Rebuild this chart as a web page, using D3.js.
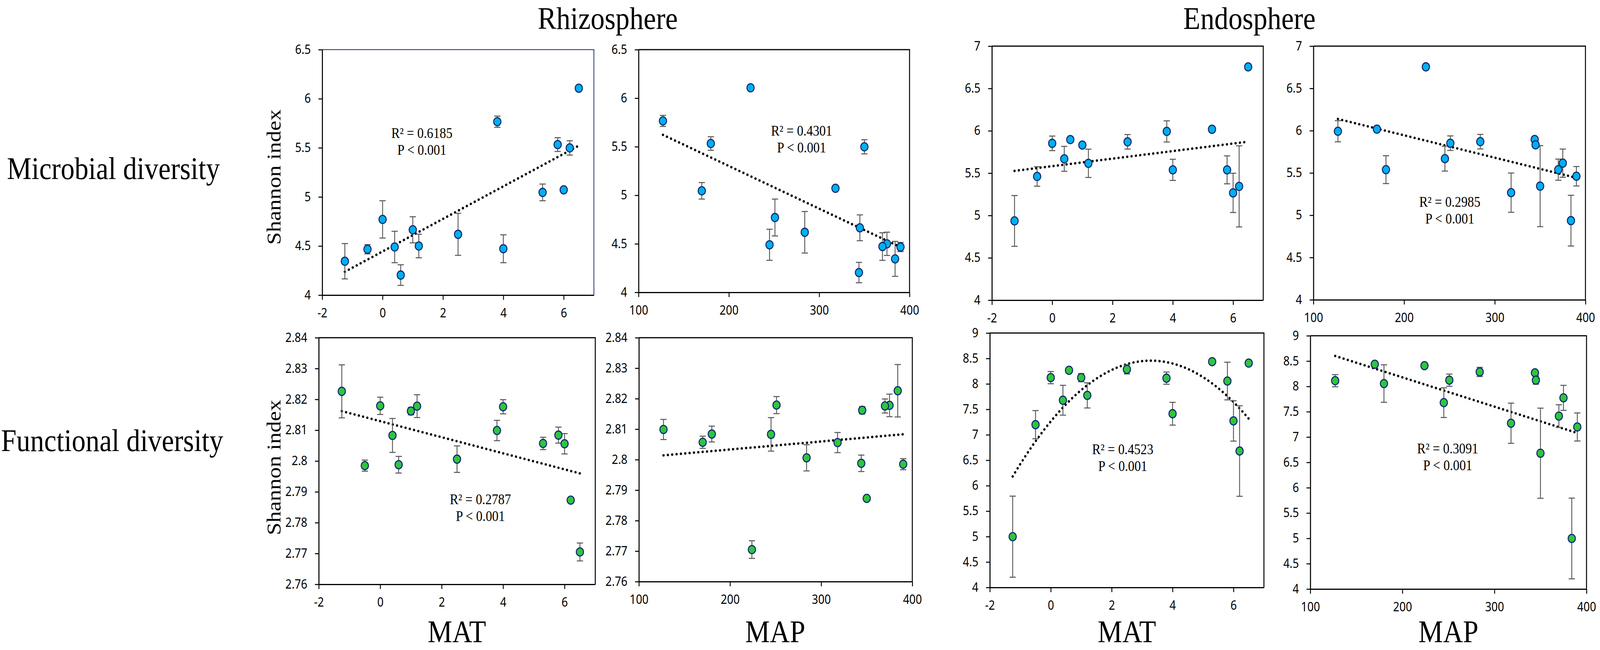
<!DOCTYPE html>
<html>
<head>
<meta charset="utf-8">
<script src="https://cdn.jsdelivr.net/npm/d3@7"></script>
<style>
  html, body { margin: 0; padding: 0; background: #fff; overflow: hidden; }
  svg { display: block; width: 100vw; height: 100vh; }
</style>
</head>
<body>
<svg id="chart"></svg>
<script>
// 15 sampling sites, climate
const sites = ["A","B","C","D","E","F","G","H","I","J","K","L","M","N","O"];
const mat = [-1.25, -0.5, 0, 0.4, 0.6, 1.0, 1.2, 2.5, 3.8, 4.0, 5.3, 5.8, 6.0, 6.2, 6.5];
const map = [384, 390, 251, 245, 344, 345, 375, 284, 127, 370, 170, 180, 318, 350, 224];

// Shannon index means and error bars
const rhizoMicro   = [4.345, 4.467, 4.771, 4.490, 4.204, 4.665, 4.500, 4.619, 5.766, 4.472, 5.046, 5.533, 5.072, 5.499, 6.107];
const rhizoMicroSE = [0.18, 0.047, 0.19, 0.16, 0.105, 0.133, 0.12, 0.214, 0.057, 0.142, 0.085, 0.07, 0.02, 0.073, 0.02];
const rhizoFunc    = [2.8226, 2.7985, 2.8179, 2.8083, 2.7988, 2.8162, 2.8178, 2.8006, 2.8099, 2.8176, 2.8057, 2.8084, 2.8056, 2.7873, 2.7705];
const rhizoFuncSE  = [0.0086, 0.0018, 0.0028, 0.0055, 0.0027, 0.0012, 0.0037, 0.0043, 0.0033, 0.0023, 0.002, 0.0026, 0.0033, 0.0003, 0.0029];
const endoMicro    = [4.936, 5.461, 5.852, 5.669, 5.896, 5.832, 5.616, 5.870, 5.993, 5.539, 6.018, 5.539, 5.267, 5.344, 6.755];
const endoMicroSE  = [0.30, 0.115, 0.086, 0.147, 0.02, 0.02, 0.167, 0.086, 0.125, 0.125, 0.035, 0.165, 0.232, 0.479, 0.01];
const endoFunc     = [4.998, 7.199, 8.123, 7.679, 8.268, 8.123, 7.774, 8.286, 8.113, 7.414, 8.437, 8.056, 7.273, 6.681, 8.409];
const endoFuncSE   = [0.797, 0.277, 0.12, 0.293, 0.02, 0.08, 0.247, 0.09, 0.12, 0.224, 0.02, 0.37, 0.397, 0.89, 0.02];

// axis ticks
const matTicks = [-2, 0, 2, 4, 6];
const mapTicks = [100, 200, 300, 400];
const rhizoMicroTicks = [4, 4.5, 5, 5.5, 6, 6.5];
const rhizoFuncTicks = [2.76, 2.77, 2.78, 2.79, 2.80, 2.81, 2.82, 2.83, 2.84];
const endoMicroTicks = [4, 4.5, 5, 5.5, 6, 6.5, 7];
const endoFuncTicks = [4, 4.5, 5, 5.5, 6, 6.5, 7, 7.5, 8, 8.5, 9];

const fitLabels = {
  rmMat: ["R\u00B2 = 0.6185", "P < 0.001"],
  rmMap: ["R\u00B2 = 0.4301", "P < 0.001"],
  rfMat: ["R\u00B2 = 0.2787", "P < 0.001"],
  emMap: ["R\u00B2 = 0.2985", "P < 0.001"],
  efMat: ["R\u00B2 = 0.4523", "P < 0.001"],
  efMap: ["R\u00B2 = 0.3091", "P < 0.001"]
};

const W = 4623, H = 1663;
const serif = "'Liberation Serif', 'Times New Roman', serif";
const sans = "'Noto Sans', 'Open Sans', sans-serif";

// fill the whole window whatever its css size
const svg = d3.select("#chart")
  .attr("viewBox", [0, 0, W, H])
  .attr("preserveAspectRatio", "none");
svg.append("rect").attr("width", W).attr("height", H).attr("fill", "#fff");

// green marker gradient
const grad = svg.append("defs").append("radialGradient")
  .attr("id", "greenDot").attr("cx", "42%").attr("cy", "40%").attr("r", "62%");
grad.append("stop").attr("offset", "0%").attr("stop-color", "#2fc83a");
grad.append("stop").attr("offset", "70%").attr("stop-color", "#2fc43c");
grad.append("stop").attr("offset", "100%").attr("stop-color", "#18a0e6");

function linearFit(xs, ys) {
  const mx = d3.mean(xs), my = d3.mean(ys);
  let sxy = 0, sxx = 0;
  xs.forEach((x, i) => { sxy += (x - mx) * (ys[i] - my); sxx += (x - mx) * (x - mx); });
  const b = sxy / sxx;
  return x => my + b * (x - mx);
}

function quadFit(xs, ys) {
  // normal equations for y = a + b x + c x^2
  const s = k => d3.sum(xs, x => Math.pow(x, k));
  const t = k => d3.sum(xs, (x, i) => Math.pow(x, k) * ys[i]);
  const m = [[s(0), s(1), s(2), t(0)], [s(1), s(2), s(3), t(1)], [s(2), s(3), s(4), t(2)]];
  for (let i = 0; i < 3; i++) {
    for (let j = i + 1; j < 3; j++) {
      const f = m[j][i] / m[i][i];
      for (let k = i; k < 4; k++) m[j][k] -= f * m[i][k];
    }
  }
  const c = m[2][3] / m[2][2];
  const b = (m[1][3] - m[1][2] * c) / m[1][1];
  const a = (m[0][3] - m[0][2] * c - m[0][1] * b) / m[0][0];
  return x => a + b * x + c * x * x;
}

const panels = [
  { id: "rmMat", xs: mat, ys: rhizoMicro, se: rhizoMicroSE, xDom: [-2, 7], xTicks: matTicks, yDom: [4, 6.5], yTicks: rhizoMicroTicks,
    box: [931, 1716, 127, 755], fit: "lin", frame: "#1f2e6e", fill: "#00b0f0", note: [288, 226] },
  { id: "rmMap", xs: map, ys: rhizoMicro, se: rhizoMicroSE, xDom: [100, 400], xTicks: mapTicks, yDom: [4, 6.5], yTicks: rhizoMicroTicks,
    box: [1845, 2628, 127, 748], fit: "lin", fill: "#00b0f0", note: [471, 220] },
  { id: "rfMat", xs: mat, ys: rhizoFunc, se: rhizoFuncSE, xDom: [-2, 7], xTicks: matTicks, yDom: [2.76, 2.84], yTicks: rhizoFuncTicks,
    box: [921, 1720, 864, 1495], fit: "lin", fill: "url(#greenDot)", note: [467, 426] },
  { id: "rfMap", xs: map, ys: rhizoFunc, se: rhizoFuncSE, xDom: [100, 400], xTicks: mapTicks, yDom: [2.76, 2.84], yTicks: rhizoFuncTicks,
    box: [1846, 2636, 864, 1488], fit: "lin", fill: "url(#greenDot)" },
  { id: "emMat", xs: mat, ys: endoMicro, se: endoMicroSE, xDom: [-2, 7], xTicks: matTicks, yDom: [4, 7], yTicks: endoMicroTicks,
    box: [2866, 3650, 118, 768], fit: "lin", fill: "#00b0f0" },
  { id: "emMap", xs: map, ys: endoMicro, se: endoMicroSE, xDom: [100, 400], xTicks: mapTicks, yDom: [4, 7], yTicks: endoMicroTicks,
    box: [3795, 4581, 118, 767], fit: "lin", fill: "#00b0f0", note: [394, 411] },
  { id: "efMat", xs: mat, ys: endoFunc, se: endoFuncSE, xDom: [-2, 7], xTicks: matTicks, yDom: [4, 9], yTicks: endoFuncTicks,
    box: [2860, 3652, 852, 1503], fit: "quad", fill: "url(#greenDot)", note: [384, 310] },
  { id: "efMap", xs: map, ys: endoFunc, se: endoFuncSE, xDom: [100, 400], xTicks: mapTicks, yDom: [4, 9], yTicks: endoFuncTicks,
    box: [3786, 4584, 859, 1507], fit: "lin", fill: "url(#greenDot)", note: [397, 301] }
];

panels.forEach(p => {
  const [x0, x1, y0, y1] = p.box;
  const x = d3.scaleLinear().domain(p.xDom).range([x0, x1]);
  const y = d3.scaleLinear().domain(p.yDom).range([y1, y0]);
  const g = svg.append("g").attr("class", "panel-" + p.id);

  // top / right frame
  g.append("path")
    .attr("d", `M${x0},${y0}H${x1}V${y1}`)
    .attr("fill", "none")
    .attr("stroke", p.frame || "#000")
    .attr("stroke-width", p.frame ? 2.2 : 2.8);

  const yAxis = g.append("g").attr("transform", `translate(${x0},0)`)
    .call(d3.axisLeft(y).tickValues(p.yTicks).tickSize(11).tickSizeOuter(0).tickPadding(22)
      .tickFormat(d => String(+d.toFixed(2))));
  const xAxis = g.append("g").attr("transform", `translate(0,${y1})`)
    .call(d3.axisBottom(x).tickValues(p.xTicks).tickSize(12).tickSizeOuter(0).tickPadding(22)
      .tickFormat(d => String(d)));
  [yAxis, xAxis].forEach(a => {
    a.select(".domain").attr("stroke", "#000").attr("stroke-width", 3);
    a.selectAll(".tick line").attr("stroke", "#000").attr("stroke-width", 2.6);
    a.selectAll(".tick text").attr("fill", "#000").attr("font-family", sans).attr("font-size", 32);
  });

  const pts = p.xs.map((v, i) => ({ site: sites[i], x: v, y: p.ys[i], se: p.se[i] }));

  // trend line
  const f = p.fit === "quad" ? quadFit(p.xs, p.ys) : linearFit(p.xs, p.ys);
  const [lo, hi] = d3.extent(p.xs);
  const xsLine = p.fit === "quad" ? d3.range(0, 61).map(k => lo + (hi - lo) * k / 60) : [lo, hi];
  g.append("path")
    .datum(xsLine)
    .attr("d", d3.line().x(d => x(d)).y(d => y(f(d))))
    .attr("fill", "none")
    .attr("stroke", "#000")
    .attr("stroke-width", 6.5)
    .attr("stroke-linecap", "round")
    .attr("stroke-dasharray", "0.1 12.5");

  // error bars
  const eb = g.append("g").attr("stroke", "#5a5a5a").attr("stroke-width", 2.6);
  eb.selectAll("line.v").data(pts).join("line").attr("class", "v")
    .attr("x1", d => x(d.x)).attr("x2", d => x(d.x))
    .attr("y1", d => y(d.y - d.se)).attr("y2", d => y(d.y + d.se));
  ["lo", "hi"].forEach(side => {
    eb.selectAll("line." + side).data(pts).join("line").attr("class", side)
      .attr("x1", d => x(d.x) - 9).attr("x2", d => x(d.x) + 9)
      .attr("y1", d => y(side === "lo" ? d.y - d.se : d.y + d.se))
      .attr("y2", d => y(side === "lo" ? d.y - d.se : d.y + d.se));
  });

  // points
  g.append("g").selectAll("circle").data(pts).join("circle")
    .attr("cx", d => x(d.x)).attr("cy", d => y(d.y)).attr("r", 10.5)
    .attr("fill", p.fill).attr("stroke", "#11296b").attr("stroke-width", 2.8);

  // R2 / P annotation
  if (p.note && fitLabels[p.id]) {
    const t = g.append("text").attr("font-family", serif).attr("font-size", 37)
      .attr("text-anchor", "middle").attr("fill", "#000");
    fitLabels[p.id].forEach((s, i) => {
      t.append("tspan").attr("x", x0 + p.note[0]).attr("y", y0 + p.note[1] + i * 43).text(s);
    });
  }
});

// titles and labels
const labels = [
  { text: "Rhizosphere", x: 1756, y: 74, size: 81, anchor: "middle" },
  { text: "Endosphere", x: 3610, y: 74, size: 81, anchor: "middle" },
  { text: "Microbial diversity", x: 20, y: 458, size: 80, anchor: "start" },
  { text: "Functional diversity", x: 3, y: 1154, size: 80, anchor: "start" },
  { text: "MAT", x: 1320, y: 1643, size: 80, anchor: "middle" },
  { text: "MAP", x: 2240, y: 1643, size: 80, anchor: "middle" },
  { text: "MAT", x: 3256, y: 1643, size: 80, anchor: "middle" },
  { text: "MAP", x: 4185, y: 1643, size: 80, anchor: "middle" }
];
svg.append("g").selectAll("text").data(labels).join("text")
  .attr("x", d => d.x).attr("y", d => d.y)
  .attr("text-anchor", d => d.anchor)
  .attr("font-family", serif).attr("font-size", d => d.size)
  .attr("fill", "#000")
  .text(d => d.text);

[453, 1196].forEach(cy => {
  svg.append("text")
    .attr("transform", `translate(810,${cy}) rotate(-90)`)
    .attr("text-anchor", "middle")
    .attr("font-family", serif).attr("font-size", 58)
    .attr("fill", "#000")
    .text("Shannon index");
});
</script>
</body>
</html>
